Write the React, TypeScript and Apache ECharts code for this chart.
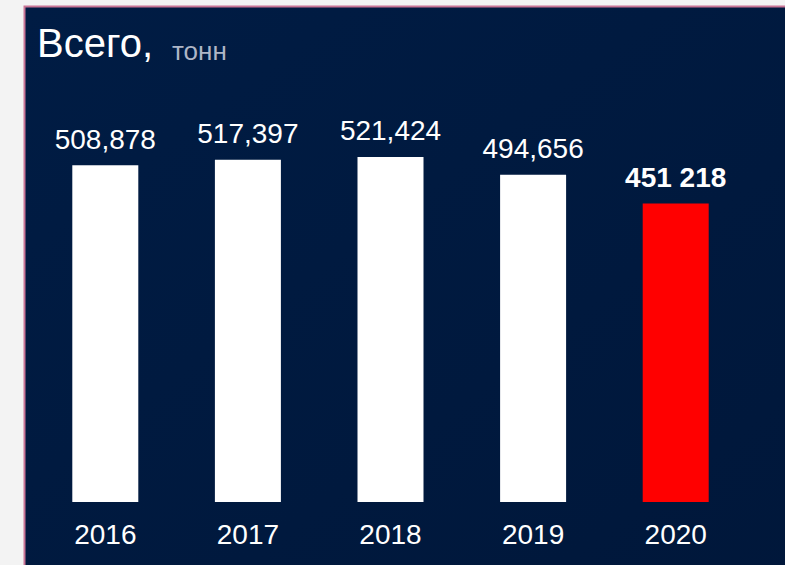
import React, { useEffect, useRef } from "react";
import * as echarts from "echarts";

const years = ["2016", "2017", "2018", "2019", "2020"];
const values = [508878, 517397, 521424, 494656, 451218];
const barColors = ["#ffffff", "#ffffff", "#ffffff", "#ffffff", "#ff0000"];
const highlightIndex = 4;
const titleMain = "Всего,";
const titleUnit = "тонн";

const FONT = "'Liberation Sans', Arial, sans-serif";

export default function App() {
  const ref = useRef<HTMLDivElement>(null);
  useEffect(() => {
    if (!ref.current) return;
    const chart = echarts.init(ref.current, undefined, { renderer: "svg" });
    const data = values.map((v, i) => {
      const isHi = i === highlightIndex;
      return {
        value: v,
        itemStyle: { color: barColors[i] },
        label: isHi
          ? {
              fontWeight: "bold",
              fontSize: 28,
              formatter: () => v.toLocaleString("en-US").replace(/,/g, " "),
            }
          : {
              fontWeight: "normal",
              fontSize: 28,
              formatter: () => v.toLocaleString("en-US"),
            },
      };
    });
    chart.setOption({
      animation: false,
      backgroundColor: "#f3f3f3",
      textStyle: { fontFamily: FONT },
      graphic: [
        {
          type: "rect",
          z: -10,
          silent: true,
          shape: { x: 24.5, y: 6.5, width: 800, height: 600 },
          style: {
            fill: new echarts.graphic.LinearGradient(0, 0, 1, 1, [
              { offset: 0, color: "#001c44" },
              { offset: 1, color: "#00173a" },
            ]),
            stroke: "#c97596",
            lineWidth: 2,
          },
        },
        {
          type: "text",
          silent: true,
          x: 37,
          y: 23,
          style: {
            text: titleMain,
            fill: "#ffffff",
            fontSize: 40,
            fontFamily: FONT,
            fontWeight: "normal",
            verticalAlign: "top",
          },
        },
        {
          type: "text",
          silent: true,
          x: 172,
          y: 38,
          style: {
            text: titleUnit,
            fill: "#aeb6c6",
            fontSize: 26,
            fontFamily: FONT,
            fontWeight: "normal",
            verticalAlign: "top",
          },
        },
      ],
      grid: { left: 34, right: 38, top: 105, bottom: 63, containLabel: false },
      xAxis: {
        type: "category",
        data: years,
        axisLine: { show: false },
        axisTick: { show: false },
        axisLabel: { color: "#ffffff", fontSize: 28, margin: 18, fontFamily: FONT },
      },
      yAxis: {
        type: "value",
        min: 0,
        max: 600000,
        show: false,
        splitLine: { show: false },
      },
      series: [
        {
          type: "bar",
          data,
          barWidth: 66,
          label: {
            show: true,
            position: "top",
            distance: 12,
            color: "#ffffff",
            fontFamily: FONT,
          },
        },
      ],
    });
    return () => chart.dispose();
  }, []);
  return (
    <div
      ref={ref}
      style={{ position: "fixed", left: 0, top: 0, width: 785, height: 565 }}
    />
  );
}
